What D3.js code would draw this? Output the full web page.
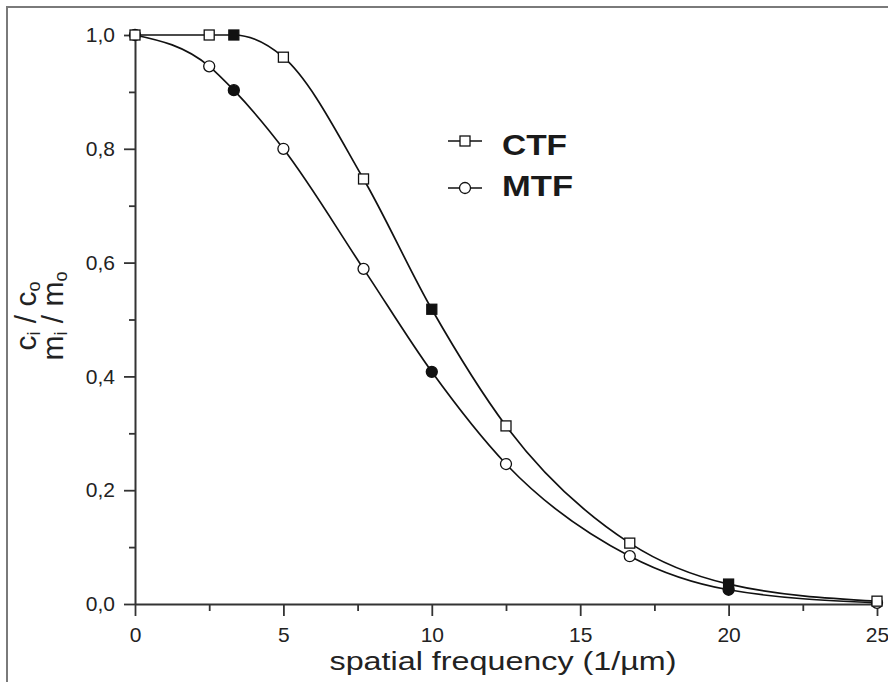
<!DOCTYPE html>
<html>
<head>
<meta charset="utf-8">
<script src="https://cdn.jsdelivr.net/npm/d3@7"></script>
<style>
  body { margin: 0; background: #fff; }
  svg { display: block; font-family: "Liberation Sans", Arial, sans-serif; }
</style>
</head>
<body>
<div id="chart"></div>
<script>
// spatial frequency (1/um) of the measured points
const freq = [0, 2.5, 3.33, 5, 7.7, 10, 12.5, 16.67, 20, 25];
const ctf = [1.0, 1.0, 1.0, 0.961, 0.747, 0.518, 0.313, 0.107, 0.035, 0.005];
const mtf = [1.0, 0.945, 0.903, 0.80, 0.589, 0.408, 0.246, 0.084, 0.025, 0.002];
// which points are drawn filled
const filled = [false, false, true, false, false, true, false, false, true, false];

const xMajor = [0, 5, 10, 15, 20, 25];
const xMinor = [2.5, 7.5, 12.5, 17.5, 22.5];
const yMajor = [0, 0.2, 0.4, 0.6, 0.8, 1.0];
const yMinor = [0.1, 0.3, 0.5, 0.7, 0.9];

const width = 888, height = 682;

const svg = d3.select("#chart").append("svg")
  .attr("width", width)
  .attr("height", height);

// outer frame (only top and left edge are visible)
svg.append("path")
  .attr("d", `M7,${height} V7 H${width}`)
  .attr("fill", "none")
  .attr("stroke", "#7a7a7a")
  .attr("stroke-width", 2);

const x = d3.scaleLinear([0, 25], [135, 877]);
const y = d3.scaleLinear([0, 1], [604, 35]);

const axisColor = "#333";

// x axis
const gx = svg.append("g").attr("transform", `translate(0,${y(0)})`);
gx.call(d3.axisBottom(x).tickValues(xMajor).tickSize(12).tickSizeOuter(0).tickPadding(11)
  .tickFormat(d3.format("d")));
gx.append("g").call(d3.axisBottom(x).tickValues(xMinor).tickSize(7).tickFormat(""))
  .select(".domain").remove();

// y axis
const gy = svg.append("g").attr("transform", `translate(${x(0)},0)`);
gy.call(d3.axisLeft(y).tickValues(yMajor).tickSize(11).tickSizeOuter(0).tickPadding(9)
  .tickFormat(d => d.toFixed(1).replace(".", ",")));
gy.append("g").call(d3.axisLeft(y).tickValues(yMinor).tickSize(6).tickFormat(""))
  .select(".domain").remove();

svg.selectAll(".domain").attr("stroke", axisColor).attr("stroke-width", 2);
svg.selectAll(".tick line").attr("stroke", axisColor).attr("stroke-width", 1.8);
svg.selectAll(".tick text").attr("fill", "#222").attr("font-size", 21)
  .attr("font-family", "'Liberation Sans', Arial, sans-serif");

// axis titles
svg.append("text")
  .attr("x", 503)
  .attr("y", 670)
  .attr("text-anchor", "middle")
  .attr("font-size", 26)
  .attr("fill", "#222")
  .attr("textLength", 347)
  .attr("lengthAdjust", "spacingAndGlyphs")
  .text("spatial frequency (1/\u00b5m)");

const yt = svg.append("g").attr("transform", "rotate(-90)").attr("fill", "#222");
function subLabel(base, sub, baseline) {
  const t = yt.append("text")
    .attr("x", -316)
    .attr("y", baseline)
    .attr("text-anchor", "middle")
    .attr("font-size", 30);
  t.append("tspan").text(base[0]);
  t.append("tspan").attr("font-size", 18).attr("dy", 4).text(sub[0]);
  t.append("tspan").attr("dy", -4).text(" / " + base[1]);
  t.append("tspan").attr("font-size", 18).attr("dy", 4).text(sub[1]);
}
subLabel(["c", "c"], ["i", "o"], 36);
subLabel(["m", "m"], ["i", "o"], 63);

// curves
const line = d3.line()
  .x((d, i) => x(freq[i]))
  .y(d => y(d))
  .curve(d3.curveMonotoneX);

svg.append("path")
  .attr("d", line(mtf))
  .attr("fill", "none")
  .attr("stroke", "#111")
  .attr("stroke-width", 1.7);

svg.append("path")
  .attr("d", line(ctf))
  .attr("fill", "none")
  .attr("stroke", "#111")
  .attr("stroke-width", 1.7);

// markers
const sq = 10;
svg.append("g")
  .selectAll("circle")
  .data(mtf)
  .join("circle")
  .attr("cx", (d, i) => x(freq[i]))
  .attr("cy", d => y(d))
  .attr("r", 5.5)
  .attr("fill", (d, i) => filled[i] ? "#111" : "#fff")
  .attr("stroke", "#111")
  .attr("stroke-width", 1.3);

svg.append("g")
  .selectAll("rect")
  .data(ctf)
  .join("rect")
  .attr("x", (d, i) => x(freq[i]) - sq / 2)
  .attr("y", d => y(d) - sq / 2)
  .attr("width", sq)
  .attr("height", sq)
  .attr("fill", (d, i) => filled[i] ? "#111" : "#fff")
  .attr("stroke", "#111")
  .attr("stroke-width", 1.3);

// legend
const legend = svg.append("g");
const lg = [{name: "CTF", cy: 141, ty: 155, len: 65}, {name: "MTF", cy: 188, ty: 196, len: 71}];
legend.selectAll("line")
  .data(lg)
  .join("line")
  .attr("x1", 448).attr("x2", 482)
  .attr("y1", d => d.cy).attr("y2", d => d.cy)
  .attr("stroke", "#111").attr("stroke-width", 1.6);
legend.append("rect")
  .attr("x", 465 - sq / 2).attr("y", lg[0].cy - sq / 2)
  .attr("width", sq).attr("height", sq)
  .attr("fill", "#fff").attr("stroke", "#111").attr("stroke-width", 1.3);
legend.append("circle")
  .attr("cx", 465).attr("cy", lg[1].cy).attr("r", 5.5)
  .attr("fill", "#fff").attr("stroke", "#111").attr("stroke-width", 1.3);
legend.selectAll("text")
  .data(lg)
  .join("text")
  .attr("x", 502)
  .attr("y", d => d.ty)
  .attr("font-size", 29)
  .attr("font-weight", "bold")
  .attr("fill", "#1a1a1a")
  .attr("textLength", d => d.len)
  .attr("lengthAdjust", "spacingAndGlyphs")
  .text(d => d.name);
</script>
</body>
</html>
